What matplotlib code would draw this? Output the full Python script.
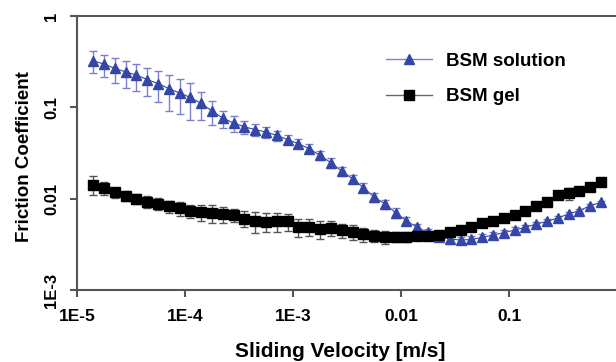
import matplotlib
matplotlib.use("Agg")
import matplotlib.pyplot as plt
from matplotlib.lines import Line2D
from matplotlib.ticker import FixedLocator, NullLocator

plt.rcParams["font.family"] = ["Liberation Sans", "DejaVu Sans"]
plt.rcParams["font.weight"] = "bold"

# sliding velocity [m/s], 10 points per decade
velocity = [
    1.41e-5, 1.78e-5, 2.24e-5, 2.82e-5, 3.55e-5, 4.47e-5, 5.62e-5, 7.08e-5, 8.91e-5,
    1.12e-4, 1.41e-4, 1.78e-4, 2.24e-4, 2.82e-4, 3.55e-4, 4.47e-4, 5.62e-4, 7.08e-4, 8.91e-4,
    1.12e-3, 1.41e-3, 1.78e-3, 2.24e-3, 2.82e-3, 3.55e-3, 4.47e-3, 5.62e-3, 7.08e-3, 8.91e-3,
    1.12e-2, 1.41e-2, 1.78e-2, 2.24e-2, 2.82e-2, 3.55e-2, 4.47e-2, 5.62e-2, 7.08e-2, 8.91e-2,
    1.12e-1, 1.41e-1, 1.78e-1, 2.24e-1, 2.82e-1, 3.55e-1, 4.47e-1, 5.62e-1, 7.08e-1,
]

solution_mu = [
    0.323, 0.297, 0.266, 0.244, 0.225, 0.201, 0.182, 0.160, 0.1435, 0.128,
    0.110, 0.091, 0.076, 0.067, 0.061, 0.057, 0.0535, 0.0492, 0.0442, 0.0399,
    0.0352, 0.0297, 0.0247, 0.0200, 0.0165, 0.0132, 0.0104, 0.00875, 0.0070, 0.0057,
    0.00484, 0.00427, 0.00382, 0.00361, 0.00352, 0.00357, 0.00376, 0.00399, 0.00423, 0.00453,
    0.00484, 0.00527, 0.00563, 0.00614, 0.00679, 0.00738, 0.00838, 0.0091,
]
solution_err = [
    0.085, 0.080, 0.083, 0.080, 0.075, 0.068, 0.068, 0.068, 0.060, 0.055,
    0.037, 0.027, 0.016, 0.014, 0.010, 0.009, 0.007, 0.006, 0.005, 0.0045,
    0.004, 0.0035, 0.003, 0.0022, 0.0018, 0.0015, 0.0012, 0.0010, 0.0008, 0.0006,
    0.0004, 0.0004, 0.0004, 0.0004, 0.0003, 0.0003, 0.0003, 0.0003, 0.0003, 0.0003,
    0.0003, 0.0003, 0.0003, 0.0003, 0.0003, 0.0003, 0.0003, 0.0003,
]

gel_mu = [
    0.01425, 0.01311, 0.01173, 0.01079, 0.00992, 0.00927, 0.00875, 0.00823, 0.00782, 0.00738,
    0.00707, 0.00697, 0.00679, 0.00662, 0.00603, 0.00569, 0.00559, 0.00566, 0.00566, 0.00492,
    0.00492, 0.00465, 0.0048, 0.00448, 0.00434, 0.00409, 0.00392, 0.00382, 0.00382, 0.00382,
    0.00392, 0.00392, 0.00402, 0.00426, 0.00453, 0.00484, 0.00541, 0.00573, 0.00614, 0.00662,
    0.00725, 0.00838, 0.00911, 0.01098, 0.01143, 0.01224, 0.01355, 0.01510,
]
gel_err = [
    0.0033, 0.0022, 0.0015, 0.0013, 0.0012, 0.0013, 0.0013, 0.0012, 0.0013, 0.0012,
    0.0014, 0.0015, 0.0014, 0.0011, 0.0012, 0.0015, 0.0013, 0.0013, 0.0012, 0.0011,
    0.0010, 0.0010, 0.0009, 0.0008, 0.0008, 0.0007, 0.0006, 0.0006, 0.0005, 0.0005,
    0.0004, 0.0003, 0.0003, 0.0004, 0.0004, 0.0004, 0.0003, 0.0003, 0.0003, 0.0003,
    0.0003, 0.0003, 0.0003, 0.0003, 0.0017, 0.0005, 0.0005, 0.0015,
]

x_ticks = [1e-5, 1e-4, 1e-3, 1e-2, 1e-1]
x_tick_labels = ["1E-5", "1E-4", "1E-3", "0.01", "0.1"]
y_ticks = [1e-3, 1e-2, 1e-1, 1]
y_tick_labels = ["1E-3", "0.01", "0.1", "1"]

BLUE = "#3446a8"
BLUE_LIGHT = "#7c80cc"

fig = plt.figure(figsize=(6.16, 3.62), dpi=100)
ax = fig.add_axes([0.125, 0.199, 0.877, 0.757])

ax.errorbar(velocity, solution_mu, yerr=solution_err, fmt="-^", color=BLUE,
            ecolor=BLUE_LIGHT, elinewidth=1.0, capsize=3, capthick=1.0,
            markersize=7.5, lw=0.8)
ax.errorbar(velocity, gel_mu, yerr=gel_err, fmt="-s", color="black",
            ecolor="#555555", elinewidth=1.0, capsize=3, capthick=1.0,
            markersize=6.5, lw=0.8)

ax.set_xscale("log")
ax.set_yscale("log")
ax.set_xlim(1e-5, 1)
ax.set_ylim(1e-3, 1)

ax.xaxis.set_major_locator(FixedLocator(x_ticks))
ax.xaxis.set_minor_locator(NullLocator())
ax.set_xticklabels(x_tick_labels, fontsize=12.5, fontweight="bold")
ax.yaxis.set_major_locator(FixedLocator(y_ticks))
ax.yaxis.set_minor_locator(NullLocator())
ax.set_yticklabels(y_tick_labels, fontsize=12, fontweight="bold",
                   rotation=90, va="center")

for side in ["left", "bottom", "top"]:
    ax.spines[side].set_color("#555555")
    ax.spines[side].set_linewidth(1.5)
ax.spines["right"].set_visible(False)
ax.tick_params(direction="out", length=5, width=1.5, color="#555555")
ax.tick_params(axis="x", pad=9)
ax.tick_params(axis="y", pad=8)

ax.set_xlabel("Sliding Velocity [m/s]", fontsize=15, fontweight="bold", va="center")
ax.xaxis.set_label_coords(0.487, -0.223)
ax.set_ylabel("Friction Coefficient", fontsize=13.5, fontweight="bold", va="center")
ax.yaxis.set_label_coords(-0.097, 0.485)

# legend: light line with the series marker, no error bars
handles = [
    Line2D([], [], color=BLUE_LIGHT, lw=1.0, marker="^", markersize=7.5,
           markerfacecolor=BLUE, markeredgecolor=BLUE),
    Line2D([], [], color="#666666", lw=1.0, marker="s", markersize=6.5,
           markerfacecolor="black", markeredgecolor="black"),
]
leg = ax.legend(handles, ["BSM solution", "BSM gel"], loc="center left",
                bbox_to_anchor=(0.54, 0.77), frameon=False, fontsize=13.5,
                handlelength=2.5, labelspacing=1.0, handletextpad=0.7)
for text in leg.get_texts():
    text.set_fontweight("bold")

fig.savefig("out.png", dpi=100)
